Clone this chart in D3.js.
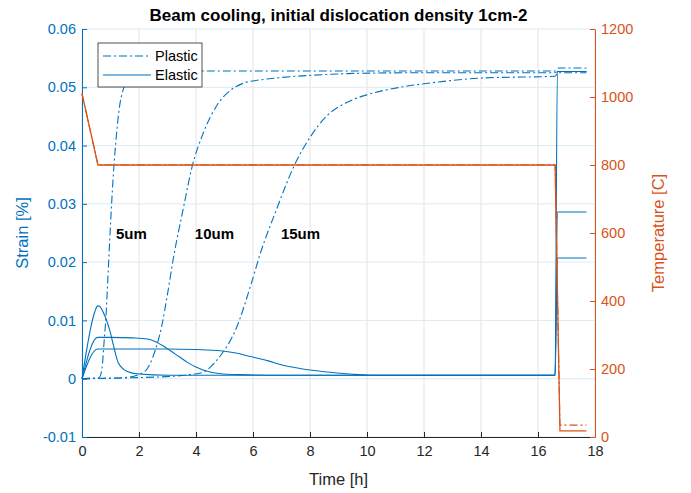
<!DOCTYPE html>
<html>
<head>
<meta charset="utf-8">
<script src="https://cdn.jsdelivr.net/npm/d3@7"></script>
<style>
  body { margin: 0; background: #fff; }
  svg { font-family: "Liberation Sans", Arial, sans-serif; }
</style>
</head>
<body>
<script>
// Tick labels
const timeTicks = [0, 2, 4, 6, 8, 10, 12, 14, 16, 18];
const strainTicks = [-0.01, 0, 0.01, 0.02, 0.03, 0.04, 0.05, 0.06];
const tempTicks = [0, 200, 400, 600, 800, 1000, 1200];

// Plastic strain (dash-dot), one per grain size
const plastic5Time = [0, 0.3, 0.6, 0.7, 0.77, 0.84, 0.91, 0.98, 1.05, 1.12, 1.19, 1.26, 1.33, 1.44, 1.58, 1.79, 2.2, 3, 16.6, 16.7, 17.7];
const plastic5 = [0, 0.0001, 0.0002, 0.0017, 0.006, 0.0106, 0.0175, 0.0245, 0.031, 0.0365, 0.0408, 0.0444, 0.0471, 0.0495, 0.0513, 0.0523, 0.0527, 0.0528, 0.0528, 0.0533, 0.0533];
const plastic10Time = [0, 1, 1.5, 2.03, 2.3, 2.5, 2.8, 3.0, 3.2, 3.55, 3.87, 4.26, 4.72, 5.19, 5.66, 6.3, 6.83, 8.6, 9.75, 12, 16.6, 16.7, 17.7];
const plastic10 = [0, 0.0001, 0.0002, 0.0008, 0.0018, 0.0039, 0.0091, 0.0145, 0.0205, 0.0291, 0.0365, 0.0422, 0.0468, 0.0494, 0.0507, 0.0513, 0.0516, 0.0522, 0.0524, 0.0525, 0.0525, 0.0527, 0.0527];
const plastic15Time = [0, 2, 3.1, 3.8, 4.25, 4.55, 4.85, 5.4, 5.95, 6.25, 6.83, 7.44, 8.0, 8.59, 9.29, 9.99, 11.16, 12.33, 14.08, 16.6, 16.7, 17.7];
const plastic15 = [0, 0.0002, 0.0004, 0.0007, 0.0011, 0.0022, 0.0039, 0.0085, 0.0165, 0.0214, 0.0291, 0.0365, 0.0414, 0.0451, 0.0474, 0.0487, 0.05, 0.0508, 0.0516, 0.0519, 0.0525, 0.0525];

// Elastic strain (solid), one per grain size
const elastic5Time = [0, 0.45, 0.55, 0.62, 0.8, 0.98, 1.1, 1.27, 1.57, 2.0, 3, 16.6, 16.68, 17.7];
const elastic5 = [0, 0.0115, 0.0125, 0.0124, 0.0108, 0.0082, 0.0058, 0.0028, 0.0013, 0.0008, 0.0006, 0.0006, 0.0527, 0.0527];
const elastic10Time = [0, 0.55, 1.0, 1.8, 2.3, 2.6, 2.85, 3.1, 3.4, 3.7, 4.0, 4.25, 4.8, 5.5, 7, 16.6, 16.68, 17.7];
const elastic10 = [0, 0.0071, 0.0071, 0.007, 0.0068, 0.0063, 0.0056, 0.0048, 0.0038, 0.0028, 0.002, 0.0015, 0.0009, 0.0007, 0.0006, 0.0006, 0.0286, 0.0286];
const elastic15Time = [0, 0.55, 2, 3, 4, 4.85, 5.4, 5.9, 6.5, 7.05, 7.6, 8.0, 8.7, 9.4, 10.1, 16.6, 16.68, 17.7];
const elastic15 = [0, 0.0051, 0.0051, 0.0051, 0.005, 0.0048, 0.0044, 0.0038, 0.0031, 0.0023, 0.0018, 0.0015, 0.0011, 0.0008, 0.0006, 0.0006, 0.0207, 0.0207];

// Temperature (right axis)
const tempTime = [0, 0.56, 16.6, 16.77, 17.7];
const tempSolid = [1010, 800, 800, 18, 18];
const tempDashed = [1010, 800, 800, 35, 35];

// Grain size annotations
const sizeLabels = ["5um", "10um", "15um"];
const sizeLabelTime = [1.19, 3.96, 6.98];
const sizeLabelStrain = [0.0248, 0.0248, 0.0248];

const legendLabels = ["Plastic", "Elastic"];

const SVG_WIDTH = 691, SVG_HEIGHT = 493;
const BLUE = "#0072BD", ORANGE = "#D95319", DARK = "#262626";
const DASH_DOT = "8,3,2,3";

let margin = null, width = null, height = null;
let svg = null;
let x, y, yT = null;

setupCanvasSize();
appendSvg("body");
setupScales();
appendGrid();
appendAxes();
appendStrainLines();
appendTemperatureLines();
appendAnnotations();
appendLegend();
appendTitles();

function setupCanvasSize() {
  margin = {top: 29, left: 82, bottom: 56, right: 96};
  width = SVG_WIDTH - margin.left - margin.right;
  height = SVG_HEIGHT - margin.top - margin.bottom;
}

function appendSvg(domElement) {
  svg = d3.select(domElement).append("svg")
    .attr("width", SVG_WIDTH)
    .attr("height", SVG_HEIGHT)
    .append("g")
    .attr("transform", `translate(${margin.left}, ${margin.top})`);
}

function setupScales() {
  x = d3.scaleLinear().domain([0, 18]).range([0, width]);
  y = d3.scaleLinear().domain([-0.01, 0.06]).range([height, 0]);
  yT = d3.scaleLinear().domain([0, 1200]).range([height, 0]);
}

// light grid, vertical grey and horizontal tinted like the left axis
function appendGrid() {
  svg.append("g").selectAll("line").data(timeTicks).join("line")
    .attr("x1", d => x(d)).attr("x2", d => x(d))
    .attr("y1", 0).attr("y2", height)
    .attr("stroke", "#e3e3e3").attr("stroke-width", 1);
  svg.append("g").selectAll("line").data(strainTicks).join("line")
    .attr("x1", 0).attr("x2", width)
    .attr("y1", d => y(d)).attr("y2", d => y(d))
    .attr("stroke", "#dcebf6").attr("stroke-width", 1);
}

function styleAxis(g, color, size) {
  g.select(".domain").attr("stroke", color);
  g.selectAll(".tick line").attr("stroke", color);
  g.selectAll(".tick text").attr("fill", color)
    .style("font-size", size + "px")
    .style("font-family", "'Liberation Sans', Arial, sans-serif");
}

function appendAxes() {
  const xa = svg.append("g")
    .attr("transform", `translate(0, ${height})`)
    .call(d3.axisBottom(x).tickValues(timeTicks).tickSize(-5).tickSizeOuter(0).tickPadding(9));
  styleAxis(xa, DARK, 14.5);

  const ya = svg.append("g")
    .call(d3.axisLeft(y).tickValues(strainTicks).tickSize(-5).tickSizeOuter(0).tickPadding(6)
      .tickFormat(d => d === 0 ? "0" : d.toFixed(2)));
  styleAxis(ya, BLUE, 14.5);

  const yr = svg.append("g")
    .attr("transform", `translate(${width}, 0)`)
    .call(d3.axisRight(yT).tickValues(tempTicks).tickSize(-5).tickSizeOuter(0).tickPadding(6)
      .tickFormat(d => String(d)));
  styleAxis(yr, ORANGE, 14.5);
}

function drawLine(times, values, scale, color, dash) {
  const line = d3.line()
    .x(d => x(d[0]))
    .y(d => scale(d[1]))
    .curve(d3.curveMonotoneX);
  svg.append("path")
    .datum(d3.zip(times, values))
    .attr("d", line)
    .attr("fill", "none")
    .attr("stroke", color)
    .attr("stroke-width", 1.1)
    .attr("stroke-dasharray", dash);
}

function appendStrainLines() {
  drawLine(plastic5Time, plastic5, y, BLUE, DASH_DOT);
  drawLine(plastic10Time, plastic10, y, BLUE, DASH_DOT);
  drawLine(plastic15Time, plastic15, y, BLUE, DASH_DOT);
  drawLine(elastic5Time, elastic5, y, BLUE, null);
  drawLine(elastic10Time, elastic10, y, BLUE, null);
  drawLine(elastic15Time, elastic15, y, BLUE, null);
}

function appendTemperatureLines() {
  const line = d3.line().x(d => x(d[0])).y(d => yT(d[1]));
  svg.append("path").datum(d3.zip(tempTime, tempSolid)).attr("d", line)
    .attr("fill", "none").attr("stroke", ORANGE).attr("stroke-width", 1.3);
  svg.append("path").datum(d3.zip(tempTime, tempDashed)).attr("d", line)
    .attr("fill", "none").attr("stroke", ORANGE).attr("stroke-width", 1.1)
    .attr("stroke-dasharray", DASH_DOT);
}

function appendAnnotations() {
  svg.append("g").selectAll("text").data(sizeLabels).join("text")
    .attr("x", (d, i) => x(sizeLabelTime[i]))
    .attr("y", (d, i) => y(sizeLabelStrain[i]))
    .attr("dy", "0.35em")
    .attr("font-size", 15)
    .attr("font-weight", "bold")
    .attr("fill", "#000")
    .text(d => d);
}

function appendLegend() {
  const lg = svg.append("g").attr("transform", "translate(16, 14)");
  lg.append("rect")
    .attr("width", 104).attr("height", 44)
    .attr("fill", "#fff").attr("stroke", DARK).attr("stroke-width", 0.8);
  const row = lg.selectAll("g").data(legendLabels).join("g")
    .attr("transform", (d, i) => `translate(0, ${13 + i * 19})`);
  row.append("line")
    .attr("x1", 5).attr("x2", 53)
    .attr("stroke", BLUE).attr("stroke-width", 1.1)
    .attr("stroke-dasharray", (d, i) => i === 0 ? DASH_DOT : null);
  row.append("text")
    .attr("x", 57).attr("dy", "0.35em")
    .attr("font-size", 14.5).attr("fill", "#000")
    .text(d => d);
}

function appendTitles() {
  svg.append("text")
    .attr("x", width / 2).attr("y", -8)
    .attr("text-anchor", "middle")
    .attr("font-size", 17).attr("font-weight", "bold")
    .attr("fill", "#000")
    .text("Beam cooling, initial dislocation density 1cm-2");
  svg.append("text")
    .attr("x", width / 2).attr("y", height + 48)
    .attr("text-anchor", "middle")
    .attr("font-size", 16.5).attr("fill", DARK)
    .text("Time [h]");
  svg.append("text")
    .attr("transform", `translate(${-54}, ${height / 2}) rotate(-90)`)
    .attr("text-anchor", "middle")
    .attr("font-size", 16.5).attr("fill", BLUE)
    .text("Strain [%]");
  svg.append("text")
    .attr("transform", `translate(${width + 69}, ${height / 2}) rotate(-90)`)
    .attr("text-anchor", "middle")
    .attr("font-size", 16.5).attr("fill", ORANGE)
    .text("Temperature [C]");
}
</script>
</body>
</html>
